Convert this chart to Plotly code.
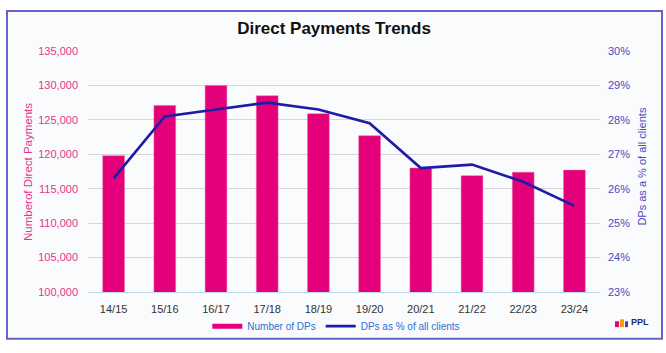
import plotly.graph_objects as go

years = ["14/15", "15/16", "16/17", "17/18", "18/19", "19/20", "20/21", "21/22", "22/23", "23/24"]
num_dps = [119800, 127100, 130000, 128500, 125900, 122700, 118000, 116900, 117400, 117700]
pct_clients = [26.3, 28.1, 28.3, 28.5, 28.3, 27.9, 26.6, 26.7, 26.2, 25.5]

PINK = "#e3007a"
NAVY = "#1c1ca8"
BG = "#f9fbfc"
FONT = "Liberation Sans, Arial, sans-serif"

fig = go.Figure()
fig.add_trace(go.Bar(x=years, y=num_dps, marker=dict(color=PINK, line=dict(color="#f06aaa", width=0.5)),
                     name="Number of DPs", showlegend=False, yaxis="y"))
# legend proxy for bars (drawn as thick line swatch like the reference)
fig.add_trace(go.Scatter(x=[None], y=[None], mode="lines", line=dict(color=PINK, width=5),
                         name="Number of DPs", yaxis="y"))
fig.add_trace(go.Scatter(x=years, y=pct_clients, mode="lines", line=dict(color=NAVY, width=2.6),
                         name="DPs as % of all clients", yaxis="y2"))

fig.update_layout(
    width=666, height=353,
    margin=dict(l=88, r=66, t=51, b=55),
    paper_bgcolor="white",
    plot_bgcolor=BG,
    font=dict(family=FONT, size=11, color="#404040"),
    bargap=0.575,
    title=dict(text="<b>Direct Payments Trends</b>", x=0.5015, xref="container", xanchor="center",
               y=1 - 28 / 353, yref="container", yanchor="middle",
               font=dict(family=FONT, size=17, color="#111111")),
    xaxis=dict(showgrid=False, showline=True, linecolor="#bdd7ee", linewidth=1.2,
               tickfont=dict(size=11, color="#333333"), ticklabelstandoff=7, fixedrange=True),
    yaxis=dict(range=[100000, 135000], dtick=5000, tickformat=",", showgrid=True,
               gridcolor="#d6d6d6", gridwidth=1.2, zeroline=False,
               tickfont=dict(size=11, color="#e8338f"), ticklabelstandoff=9),
    yaxis2=dict(range=[23, 30], dtick=1, ticksuffix="%", overlaying="y", side="right",
                showgrid=False, zeroline=False,
                tickfont=dict(size=11, color="#4a4ac4"), ticklabelstandoff=7),
    legend=dict(orientation="h", x=0.485, xanchor="center", y=(298 - 333) / 247, yanchor="middle",
                font=dict(size=10, color="#2f6fd0"), bgcolor="rgba(0,0,0,0)",
                itemwidth=30, tracegroupgap=0),
    annotations=[
        dict(text="Numberof Direct Payments", textangle=-90, x=(28 - 88) / 512, y=(298 - 175) / 247,
             xref="paper", yref="paper", showarrow=False, xanchor="center", yanchor="middle",
             font=dict(size=11.5, color="#e8338f")),
        dict(text="DPs as a % of all clients", textangle=-90, x=(642.5 - 88) / 512, y=(298 - 170) / 247,
             xref="paper", yref="paper", showarrow=False, xanchor="center", yanchor="middle",
             font=dict(size=11, color="#4a4ac4")),
        dict(text="<b>PPL</b>", x=(629 - 88) / 512, y=(298 - 329) / 247, xref="paper", yref="paper",
             showarrow=False, xanchor="left", yanchor="middle",
             font=dict(size=9, color="#1f2a70")),
    ],
    shapes=[
        dict(type="rect", xref="paper", yref="paper",
             x0=(7 - 88) / 512, x1=(662 - 88) / 512, y0=(298 - 346) / 247, y1=(298 - 10) / 247,
             line=dict(width=0), fillcolor=BG, layer="below"),
        dict(type="rect", xref="paper", yref="paper",
             x0=(7 - 88) / 512, x1=(662 - 88) / 512, y0=(298 - 346) / 247, y1=(298 - 10) / 247,
             line=dict(color="#6464cc", width=2), fillcolor="rgba(0,0,0,0)", layer="above"),
        dict(type="rect", xref="paper", yref="paper",
             x0=(615 - 88) / 512, x1=(619 - 88) / 512, y0=(298 - 334) / 247, y1=(298 - 328) / 247,
             line=dict(width=0), fillcolor="#e3007a"),
        dict(type="rect", xref="paper", yref="paper",
             x0=(620 - 88) / 512, x1=(624 - 88) / 512, y0=(298 - 334) / 247, y1=(298 - 326) / 247,
             line=dict(width=0), fillcolor="#f5a000"),
        dict(type="rect", xref="paper", yref="paper",
             x0=(625 - 88) / 512, x1=(628 - 88) / 512, y0=(298 - 334) / 247, y1=(298 - 328) / 247,
             line=dict(width=0), fillcolor="#6a2bb0"),
    ],
)

fig.write_html("out.html")
